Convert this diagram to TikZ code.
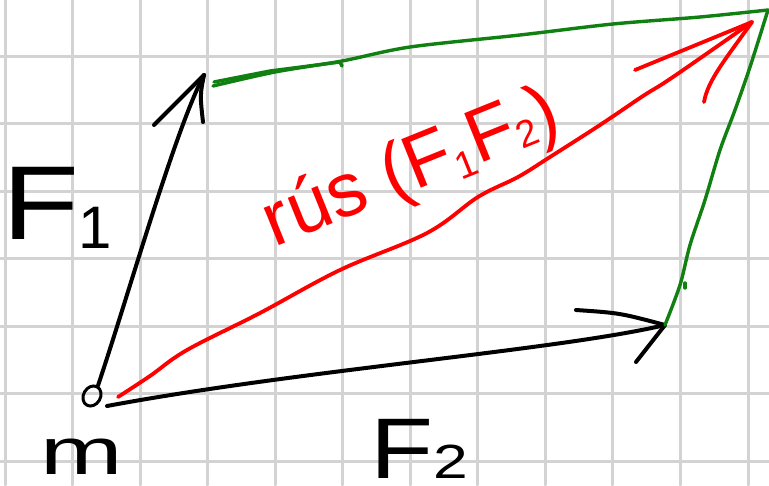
\documentclass[tikz,border=0pt]{standalone}
\usepackage{fontspec}
\setmainfont{Liberation Sans}
\usetikzlibrary{shapes.geometric}
\definecolor{gridgray}{RGB}{211,211,211}
\definecolor{penred}{RGB}{255,0,0}
\definecolor{pengreen}{RGB}{16,128,16}
\begin{document}
\begin{tikzpicture}[x=1pt,y=-1pt,line cap=round,line join=round,
  gridline/.style={draw=gridgray,line width=3pt},
  blackpen/.style={draw=black,line width=4pt},
  redpen/.style={draw=penred,line width=3.8pt},
  greenpen/.style={draw=pengreen,line width=3.4pt},
  handtext/.style={inner sep=0pt,outer sep=0pt}]
\useasboundingbox (0,0) rectangle (769,485);
\fill[white] (0,0) rectangle (769,485);
\foreach \i in {0,...,11} \draw[gridline] ({5+67.55*\i},0) -- ({5+67.55*\i},485);
\foreach \j in {0,...,6} \draw[gridline] (0,{56+67.5*\j}) -- (769,{56+67.5*\j});

% point mass
\node[ellipse,draw,line width=3pt,minimum width=17pt,minimum height=21pt,inner sep=0pt,rotate=-30] (m) at (92,396) {};

% named ends
\coordinate (f1tip) at (204,75);
\coordinate (f2tip) at (665,325);
\coordinate (rtip) at (752,22);
\coordinate (f2start) at (107,406);
\coordinate (rstart) at (118,397);
\coordinate (gstart) at (213,86);
\coordinate (gcorner) at (768,10);

% F1
\draw[blackpen] (m.north) .. controls (130,290) and (175,130) .. (f1tip);
\draw[blackpen] (f1tip) -- (154,125);
\draw[blackpen] (f1tip) .. controls (200,95) .. (203,122);

% F2
\draw[blackpen] (f2start) .. controls (300,370) and (560,350) .. (f2tip);
\draw[blackpen] (576,310) .. controls (620,313) .. (f2tip) -- (636,362);

% resultant
\draw[redpen] plot[smooth,tension=0.6] coordinates {(rstart) (150,376) (187,350) (260,313) (340,270) (427,233) (478,197) (518,177) (550,157) (600,125) (643,96) (673,77) (rtip)};
\draw[redpen] (635,70) -- (rtip);
\draw[redpen] (704,102) .. controls (708,80) and (725,60) .. (rtip);

% green parallelogram sides
\draw[greenpen] plot[smooth] coordinates {(gstart) (275,72) (342,61) (410,47) (520,35) (613,24) (700,17) (gcorner)};
\draw[greenpen] (214,82) -- (270,71) -- (340,62) -- (342,66);
\draw[greenpen] plot[smooth] coordinates {(gcorner) (750,67) (735,110) (720,150) (705,200) (690,245) (680,285) (f2tip)};
\draw[greenpen] (685,283) -- (685,288);

% labels
\node[handtext,anchor=base west] (f1lab) at (2,239) {\fontsize{105}{105}\selectfont\scalebox{1.2}[1]{F}\raisebox{-9pt}{\fontsize{60}{60}\selectfont 1}};
\node[handtext,anchor=base west] (mlab) at (40,474) {\fontsize{66}{66}\selectfont\scalebox{1.5}[1]{m}};
\node[handtext,anchor=base west] (f2lab) at (370,478) {\fontsize{86}{86}\selectfont\scalebox{1.2}[1]{F}\fontsize{48}{48}\selectfont\scalebox{1.3}[1]{2}};
\node[handtext,text=penred,rotate=22] (reslab) at (412,170) {\fontsize{76}{76}\selectfont rús (F\raisebox{-8pt}{\fontsize{38}{38}\selectfont 1}F\raisebox{-2pt}{\fontsize{38}{38}\selectfont 2})};
\end{tikzpicture}
\end{document}
